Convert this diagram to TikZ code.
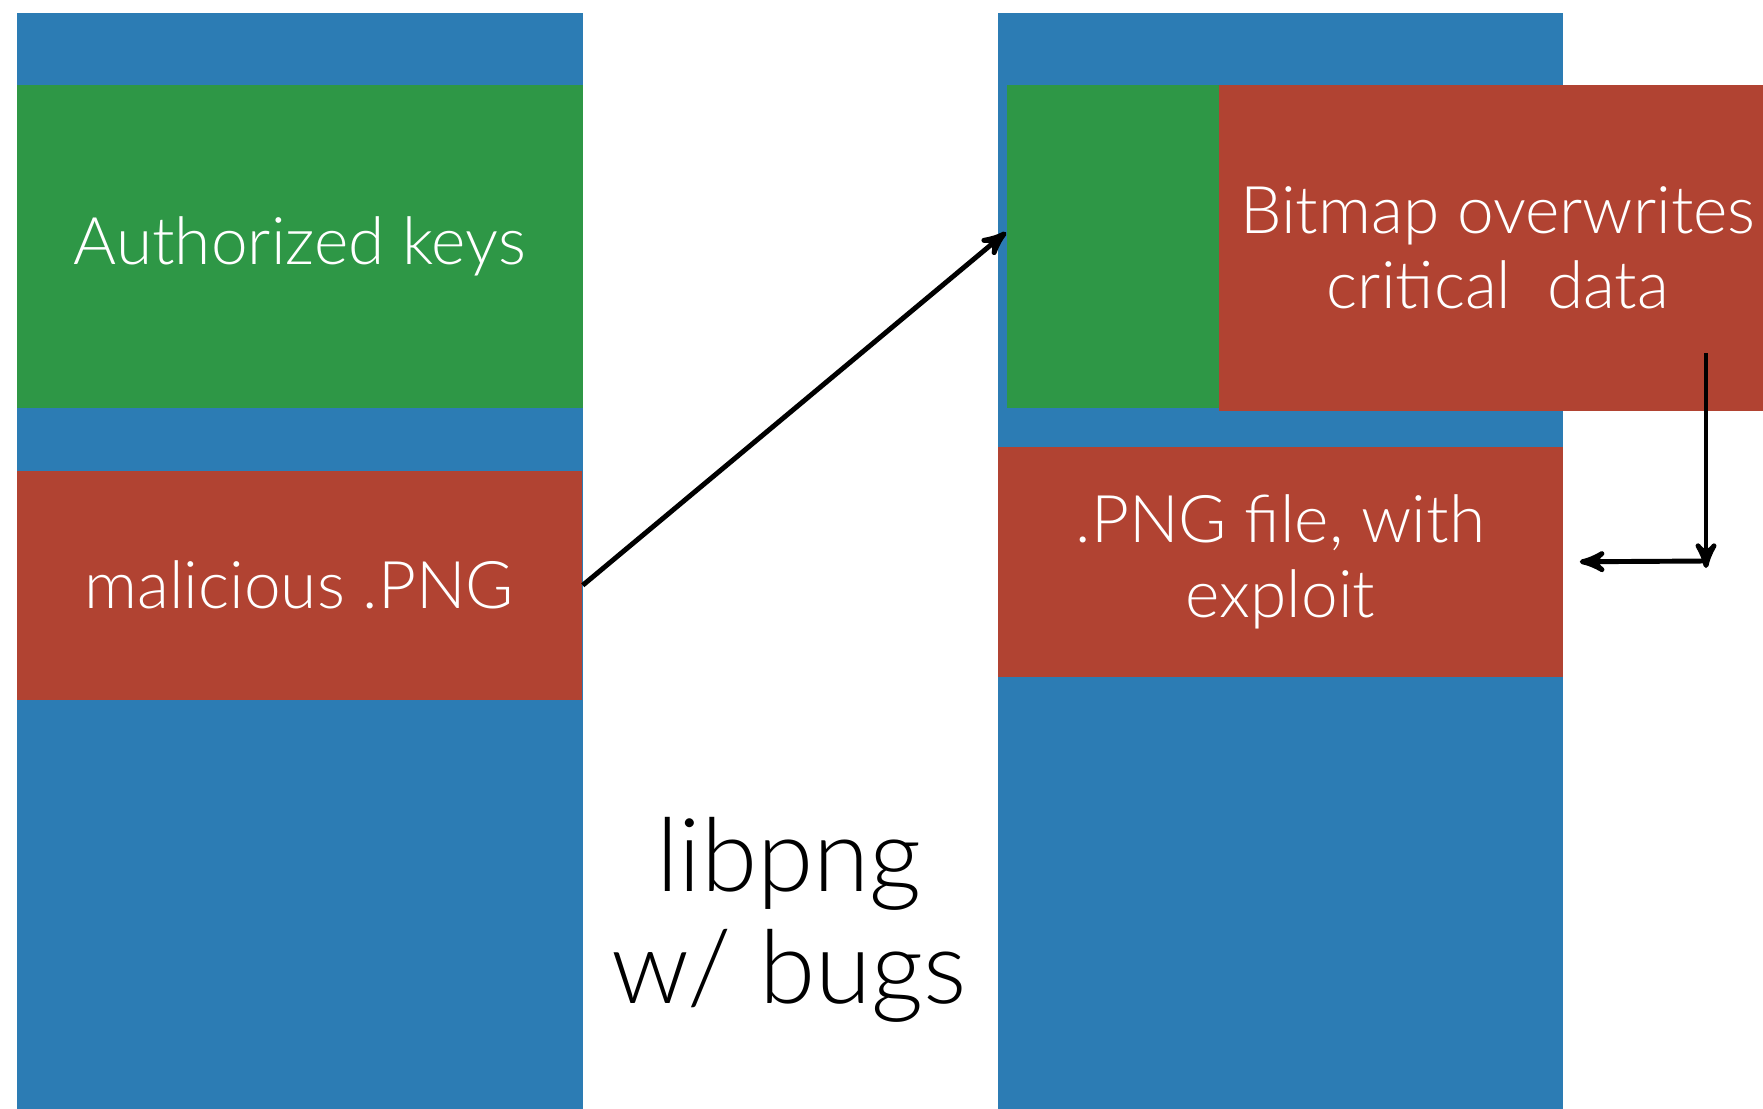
\documentclass[tikz,border=0pt]{standalone}
\usepackage{fontspec}
\setmainfont{Lato Light}
\usepackage{tikz}
\usetikzlibrary{arrows,positioning}

\definecolor{memblue}{RGB}{44,124,180}
\definecolor{keygreen}{RGB}{46,151,70}
\definecolor{pngred}{RGB}{177,67,50}

\begin{document}
\begin{tikzpicture}[x=0.01cm, y=-0.01cm,
  region/.style={rectangle, anchor=north west, inner sep=0pt, text=white, align=center,
    font=\fontsize{18.7}{21.5}\selectfont},
  ptr/.style={line width=1.4pt, -stealth'}]
  \useasboundingbox (0,0) rectangle (1763,1109);

  % memory before the bug
  \node[region, fill=memblue, minimum width=5.66cm, minimum height=10.97cm] (lmem) at (16,12) {};
  \node[region, fill=keygreen, minimum width=5.66cm, minimum height=3.23cm] (lkeys) at (16,84) {\raisebox{-0.1cm}{Authorized keys}};
  \node[region, fill=pngred, minimum width=5.65cm, minimum height=2.29cm] (lpng) at (16,470) {malicious .PNG};

  % memory after the bug
  \node[region, fill=memblue, minimum width=5.65cm, minimum height=10.97cm] (rmem) at (997,12) {};
  \node[region, fill=keygreen, minimum width=2.12cm, minimum height=3.23cm] (rkeys) at (1006,84) {};
  \node[region, fill=pngred, minimum width=5.58cm, minimum height=3.26cm] (bitmap) at (1218,84) {Bitmap overwrites\\critical\ \ data};
  \node[region, fill=pngred, minimum width=5.65cm, minimum height=2.30cm] (rpng) at (997,446) {.PNG file, with\\exploit\rule[-0.1cm]{0pt}{0pt}};

  \node[font=\fontsize{29}{32}\selectfont, align=center, inner sep=0pt] (lib) at (789,920) {libpng\\w/ bugs};

  \coordinate (vtop) at (1706,353);
  \coordinate (vbot) at (1706,568);
  \coordinate (corner) at (1706,561);
  \coordinate (hend) at ([xshift=0.16cm]rpng.east);

  \draw[ptr] (lpng.east) -- ([yshift=0.14cm]rkeys.west);
  \draw[ptr] (vtop) -- (vbot);
  \draw[ptr] (corner) -- (hend);
\end{tikzpicture}
\end{document}
